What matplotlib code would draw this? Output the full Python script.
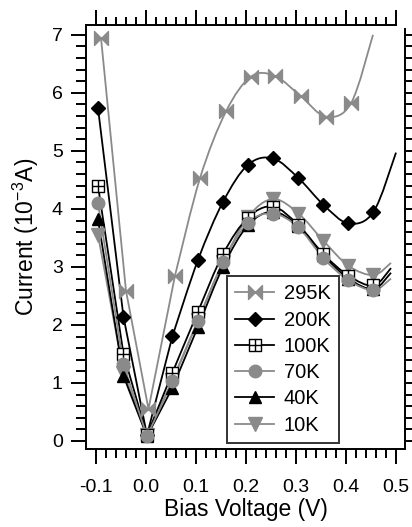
import matplotlib
matplotlib.use("Agg")
import matplotlib.pyplot as plt
import numpy as np
from matplotlib.path import Path
from matplotlib.lines import Line2D
from matplotlib.patches import PathPatch
from matplotlib.ticker import MultipleLocator, FixedLocator, FormatStrFormatter

plt.rcParams['font.family'] = ['Liberation Sans', 'DejaVu Sans']
plt.rcParams['axes.unicode_minus'] = False

# bias voltage (V) of the measured points
x_main = [-0.096, -0.045, 0.002, 0.053, 0.104, 0.154, 0.204, 0.254, 0.305, 0.355, 0.405, 0.455]
x_295 = [-0.090, -0.040, 0.005, 0.058, 0.108, 0.160, 0.210, 0.258, 0.310, 0.360, 0.410]

# current (1e-3 A)
i_295 = [6.95, 2.59, 0.55, 2.85, 4.53, 5.68, 6.28, 6.29, 5.94, 5.59, 5.82]
i_200 = [5.74, 2.14, 0.10, 1.81, 3.12, 4.12, 4.76, 4.87, 4.53, 4.07, 3.75, 3.95]
i_100 = [4.40, 1.50, 0.10, 1.18, 2.23, 3.22, 3.85, 4.04, 3.72, 3.22, 2.85, 2.68]
i_70 = [4.10, 1.32, 0.08, 1.03, 2.07, 3.08, 3.76, 3.92, 3.68, 3.15, 2.77, 2.60]
i_40 = [3.82, 1.12, 0.08, 0.92, 1.97, 3.00, 3.72, 3.95, 3.70, 3.20, 2.80, 2.62]
i_10 = [3.55, 1.18, 0.10, 1.05, 2.08, 3.08, 3.86, 4.17, 3.92, 3.45, 3.02, 2.86]

# where each fitted curve ends
tail_295 = (0.454, 7.00)
tail_200 = (0.500, 4.97)
tail_100 = (0.490, 2.98)
tail_70 = (0.490, 2.80)
tail_40 = (0.490, 2.90)
tail_10 = (0.490, 3.07)

labels = ['295K', '200K', '100K', '70K', '40K', '10K']

gray = '#8a8a8a'

# custom markers
bowtie = Path([(-1, -1), (0, 0), (-1, 1), (-1, -1), (1, -1), (0, 0), (1, 1), (1, -1)],
              [Path.MOVETO, Path.LINETO, Path.LINETO, Path.CLOSEPOLY,
               Path.MOVETO, Path.LINETO, Path.LINETO, Path.CLOSEPOLY])
boxcross = Path([(-1, -1), (1, -1), (1, 1), (-1, 1), (-1, -1),
                 (-1, 0), (1, 0), (0, -1), (0, 1)],
                [Path.MOVETO, Path.LINETO, Path.LINETO, Path.LINETO, Path.CLOSEPOLY,
                 Path.MOVETO, Path.LINETO, Path.MOVETO, Path.LINETO])


def trace_path(x, y, tail, nstraight=4):
    # straight segments on the left, smooth (Catmull-Rom) curve through the rest
    pts = np.column_stack([x, y])
    verts = [tuple(p) for p in pts[:nstraight]]
    codes = [Path.MOVETO] + [Path.LINETO] * (nstraight - 1)
    sm = np.vstack([pts[nstraight - 1:], [tail]])
    n = len(sm)
    for k in range(n - 1):
        p0 = sm[k - 1] if k > 0 else sm[k]
        p1 = sm[k]
        p2 = sm[k + 1]
        p3 = sm[k + 2] if k + 2 < n else sm[k + 1]
        c1 = p1 + (p2 - p0) / 6.0
        c2 = p2 - (p3 - p1) / 6.0
        verts += [tuple(c1), tuple(c2), tuple(p2)]
        codes += [Path.CURVE4] * 3
    return Path(verts, codes)


fig = plt.figure(figsize=(4.12, 5.27), dpi=100)
ax = fig.add_axes([0.2087, 0.148, 0.7743, 0.8046])

series = [
    (x_295, i_295, tail_295, gray, bowtie, 10, gray, gray),
    (x_main, i_200, tail_200, 'black', 'D', 7, 'black', 'black'),
    (x_main, i_10, tail_10, gray, 'v', 10, gray, gray),
    (x_main, i_40, tail_40, 'black', '^', 9, 'black', 'black'),
    (x_main, i_100, tail_100, 'black', boxcross, 9, 'white', 'black'),
    (x_main, i_70, tail_70, gray, 'o', 9, gray, gray),
]
for k, (x, y, tail, col, mk, ms, fc, ec) in enumerate(series):
    ax.add_patch(PathPatch(trace_path(x, y, tail), fill=False, edgecolor=col,
                           lw=1.3, zorder=2 + k * 0.1, capstyle='butt', joinstyle='round'))
    ax.plot(x, y, ls='none', marker=mk, ms=ms, mfc=fc, mec=ec, mew=1.0,
            zorder=3 + k * 0.1)

leg_handles = [
    Line2D([], [], color=gray, lw=1.3, marker=bowtie, ms=10, mfc=gray, mec=gray),
    Line2D([], [], color='black', lw=1.3, marker='D', ms=7, mfc='black', mec='black'),
    Line2D([], [], color='black', lw=1.3, marker=boxcross, ms=9, mfc='white', mec='black', mew=1.0),
    Line2D([], [], color=gray, lw=1.3, marker='o', ms=9, mfc=gray, mec=gray),
    Line2D([], [], color='black', lw=1.3, marker='^', ms=9, mfc='black', mec='black'),
    Line2D([], [], color=gray, lw=1.3, marker='v', ms=10, mfc=gray, mec=gray),
]
leg = ax.legend(leg_handles, labels, loc='lower left', bbox_to_anchor=(0.442, 0.014),
                borderaxespad=0, fontsize=14.5, frameon=True, fancybox=False,
                edgecolor='black', handlelength=1.9, handletextpad=0.5,
                labelspacing=0.36, borderpad=0.42, numpoints=1)
leg.get_frame().set_linewidth(1.4)
leg.set_zorder(10)

ax.set_xlim(-0.12, 0.518)
ax.set_ylim(-0.138, 7.17)

ax.xaxis.set_major_locator(FixedLocator([-0.1, 0.0, 0.1, 0.2, 0.3, 0.4, 0.5]))
ax.xaxis.set_minor_locator(FixedLocator(np.arange(-0.1, 0.501, 0.02)))
ax.xaxis.set_major_formatter(FormatStrFormatter('%.1f'))
ax.yaxis.set_major_locator(MultipleLocator(1))
ax.yaxis.set_minor_locator(MultipleLocator(0.2))

for s in ['top', 'right']:
    ax.spines[s].set_visible(False)
for s in ['left', 'bottom']:
    ax.spines[s].set_linewidth(1.4)

ax.tick_params(axis='both', which='both', direction='out', width=1.4,
               top=False, right=False, labelsize=14)
ax.tick_params(axis='x', which='major', length=10.8, pad=11)
ax.tick_params(axis='x', which='minor', length=6.5)
ax.tick_params(axis='y', which='major', length=10.8, pad=6)
ax.tick_params(axis='y', which='minor', length=7.2)

# top axis
secx = ax.secondary_xaxis('top')
secx.xaxis.set_major_locator(FixedLocator([-0.1, 0.0, 0.1, 0.2, 0.3, 0.4, 0.5]))
secx.xaxis.set_minor_locator(FixedLocator(np.arange(-0.1, 0.501, 0.02)))
secx.tick_params(which='both', direction='out', width=1.4, labeltop=False)
secx.tick_params(which='major', length=10.8)
secx.tick_params(which='minor', length=5.8)
secx.spines['top'].set_linewidth(1.4)
secx.spines['top'].set_bounds(-0.12, 0.5)

# right axis
secy = ax.secondary_yaxis('right')
secy.yaxis.set_major_locator(MultipleLocator(0.2))
secy.tick_params(which='both', direction='out', width=1.4, length=5, labelright=False)
secy.spines['right'].set_linewidth(1.4)
secy.spines['right'].set_bounds(-0.138, 7.1)

ax.set_xlabel('Bias Voltage (V)', fontsize=16.5, labelpad=1)
ax.set_ylabel('Current (10$^{\\mathregular{-3}}$A)', fontsize=16.5, labelpad=8)

fig.savefig('out.png', dpi=100)
